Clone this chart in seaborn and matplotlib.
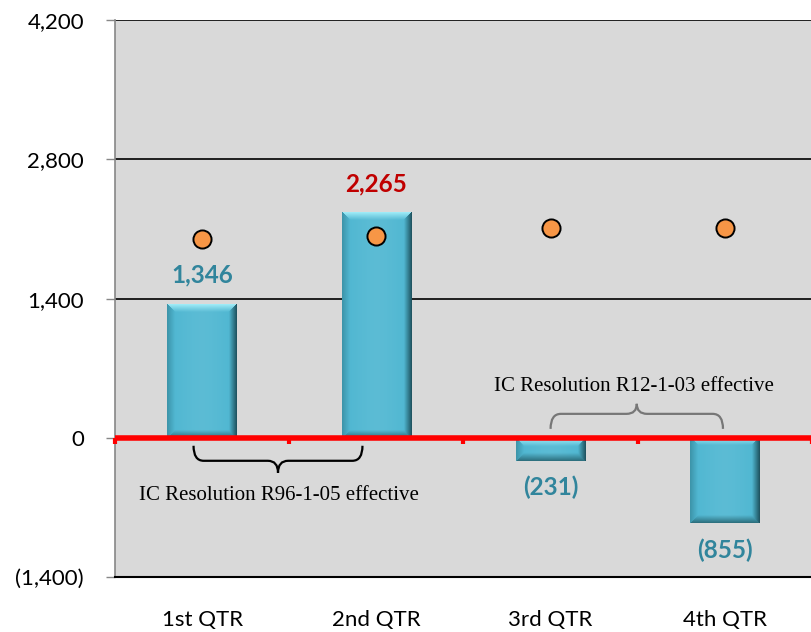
import numpy as np
import matplotlib
matplotlib.use("Agg")
import matplotlib.pyplot as plt
from matplotlib.path import Path
from matplotlib.patches import PathPatch
from matplotlib.ticker import FuncFormatter
import seaborn as sns

# chart data
quarters = ["1st QTR", "2nd QTR", "3rd QTR", "4th QTR"]
results = [1346, 2265, -231, -855]
label_colors = ["#31859c", "#c00000", "#31859c", "#31859c"]
dots = [2000, 2030, 2110, 2110]
y_ticks = [-1400, 0, 1400, 2800, 4200]
notes = ["IC Resolution R96-1-05 effective", "IC Resolution R12-1-03 effective"]

sns.set_theme(style="white")
plt.rcParams["font.family"] = ["Lato", "DejaVu Sans"]

fig = plt.figure(figsize=(8.11, 6.32), dpi=100)
ax = fig.add_axes([0.142, 0.087, 0.859, 0.881])
ax.set_facecolor("#d9d9d9")

sns.barplot(x=quarters, y=results, width=0.4, color="#4db6d1", saturation=1,
            edgecolor="none", linewidth=0, ax=ax, zorder=3)
ax.set_xlim(-0.5, 3.5)
ax.set_ylim(y_ticks[0], y_ticks[-1])


def hexrgb(h):
    return np.array([int(h[i:i + 2], 16) / 255 for i in (1, 3, 5)])


def bevel(patch, bw=8):
    # bevelled fill clipped to the bar, like the Excel 3-D bars
    x0, y0 = patch.get_x(), patch.get_y()
    w, h = patch.get_width(), patch.get_height()
    (px0, py0), (px1, py1) = ax.transData.transform([(x0, y0), (x0 + w, y0 + h)])
    nx, ny = max(int(abs(px1 - px0)), 2), max(int(abs(py1 - py0)), 2)
    xx, yy = np.meshgrid(np.arange(nx) + 0.5, np.arange(ny) + 0.5)
    dists = np.stack([xx, nx - xx, yy, ny - yy])  # left, right, top, bottom
    side = dists.argmin(axis=0)
    m = dists.min(axis=0)
    base = hexrgb("#4db6d1")
    edges = np.stack([hexrgb("#3c93a8"), hexrgb("#1d4f5b"),
                      hexrgb("#a3eef9"), hexrgb("#2b6c7a")])
    t = np.clip(m / bw, 0, 1)[..., None]
    img = edges[side] * (1 - t) + base * t
    # soft lighter centre
    cx = np.exp(-((xx - nx / 2) / (nx * 0.35)) ** 2)[..., None]
    img = img + (1 - img) * 0.08 * cx * t
    ylo, yhi = min(y0, y0 + h), max(y0, y0 + h)
    ax.imshow(np.clip(img, 0, 1), extent=[x0, x0 + w, ylo, yhi], origin="upper",
              aspect="auto", zorder=3.2, clip_path=patch, interpolation="bilinear")


for p in list(ax.patches):
    bevel(p)

ax.set_xlim(-0.5, 3.5)
ax.set_ylim(y_ticks[0], y_ticks[-1])

sns.scatterplot(x=np.arange(len(quarters)), y=dots, s=170, color="#f79646",
                edgecolor="black", linewidth=1.4, zorder=6, ax=ax, legend=False)

# zero line with red category ticks
ax.axhline(0, color="#ff0000", lw=4, zorder=5)
ax.vlines(np.arange(len(quarters) + 1) - 0.5, -60, 0, color="#ff0000", lw=3,
          zorder=5, clip_on=False)

# data labels
for i, (v, c) in enumerate(zip(results, label_colors)):
    txt = f"{v:,}" if v >= 0 else f"({-v:,})"
    off = 29 if v >= 0 else -27
    ax.annotate(txt, xy=(i, v), xytext=(0, off), textcoords="offset pixels",
                ha="center", va="center", fontsize=17.5, fontweight="bold",
                color=c, zorder=7)


def brace(x0, x1, y_end, y_mid, y_tip, color):
    xm = (x0 + x1) / 2
    r = (x1 - x0) * 0.06
    verts = [(x0, y_end), (x0, y_mid), (x0 + r, y_mid),
             (xm - r, y_mid), (xm, y_mid), (xm, y_tip),
             (xm, y_mid), (xm + r, y_mid),
             (x1 - r, y_mid), (x1, y_mid), (x1, y_end)]
    codes = [Path.MOVETO, Path.CURVE3, Path.CURVE3,
             Path.LINETO, Path.CURVE3, Path.CURVE3,
             Path.CURVE3, Path.CURVE3,
             Path.LINETO, Path.CURVE3, Path.CURVE3]
    ax.add_patch(PathPatch(Path(verts, codes), fill=False, edgecolor=color,
                           lw=1.6, zorder=6))


brace(-0.05, 0.92, -80, -231, -352, "black")
ax.text(0.44, -583, notes[0], ha="center", va="center", fontsize=15,
        family="Liberation Serif", color="black", zorder=7)
brace(2.0, 2.99, 90, 241, 342, "#777777")
ax.text(2.48, 512, notes[1], ha="center", va="center", fontsize=15,
        family="Liberation Serif", color="black", zorder=7)

# axes styling
ax.set_yticks(y_ticks)
ax.yaxis.set_major_formatter(FuncFormatter(
    lambda v, _: f"{v:,.0f}" if v >= 0 else f"({-v:,.0f})"))
ax.yaxis.grid(True, color="black", lw=1.2, zorder=1)
ax.set_axisbelow(True)
ax.tick_params(axis="y", left=True, length=6.5, width=1, color="#878787",
               labelsize=16, pad=16, labelcolor="black")
ax.tick_params(axis="x", length=0, pad=24, labelsize=16, labelcolor="black")
ax.set_xticks(range(len(quarters)))
ax.set_xticklabels(quarters)
for s in ["top", "right"]:
    ax.spines[s].set_visible(False)
ax.spines["left"].set_color("#878787")
ax.spines["left"].set_linewidth(1.2)
ax.spines["bottom"].set_color("black")
ax.spines["bottom"].set_linewidth(1.5)
ax.set_xlabel("")
ax.set_ylabel("")

fig.savefig("out.png", dpi=100)
